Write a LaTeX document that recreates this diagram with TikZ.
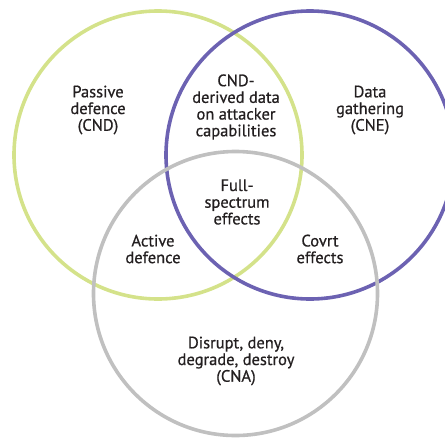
\documentclass[tikz,border=0pt]{standalone}
\usepackage{fontspec}
\setmainfont{PT Sans}[FakeBold=0.7]
\definecolor{lime}{RGB}{212,226,138}
\definecolor{violet}{RGB}{108,98,178}
\definecolor{lgray}{RGB}{192,192,192}
\definecolor{ink}{RGB}{35,31,32}
\begin{document}
\begin{tikzpicture}[x=1pt,y=-1pt,
  ring/.style={line width=3.6pt},
  lbl/.style={align=center,font=\fontsize{16.5}{16.7}\selectfont,text=ink,inner sep=0pt}]
\useasboundingbox (0,0) rectangle (445,437);
\begin{scope}
\clip (0,0) rectangle (445,437);
\draw[ring,lime] (158,155) circle[radius=144];
\draw[ring,violet] (310,155) circle[radius=144];
\draw[ring,lgray] (235.5,293.5) circle[radius=142];
\end{scope}
\node[lbl] (passive) at (98,110) {Passive\\defence\\(CND)};
\node[lbl] (cndder) at (236,107) {CND-\\derived data\\on attacker\\capabilities};
\node[lbl] (data) at (370,110) {Data\\gathering\\(CNE)};
\node[lbl] (full) at (237,202) {Full-\\spectrum\\effects};
\node[lbl] (active) at (153,249) {Active\\defence};
\node[lbl] (covrt) at (320,249) {Covrt\\effects};
\node[lbl] (cna) at (236,361) {Disrupt, deny,\\degrade, destroy\\(CNA)};
\end{tikzpicture}
\end{document}
